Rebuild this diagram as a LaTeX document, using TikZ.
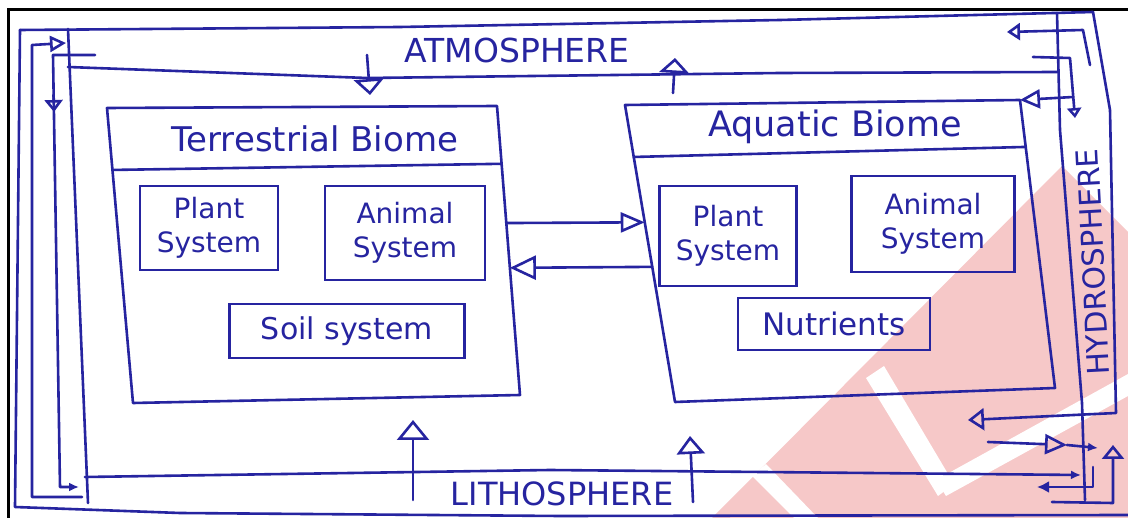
\documentclass[tikz,border=0pt]{standalone}
\usepackage{fontspec}
\newfontfamily\hand{DejaVu Sans}
\usetikzlibrary{arrows.meta,calc}
\definecolor{ink}{RGB}{38,36,160}
\definecolor{wm}{RGB}{246,200,200}
\begin{document}
\begin{tikzpicture}[x=1pt,y=-1pt,
  pen/.style={draw=ink,line width=2.6pt,line join=round,line cap=round},
  smalltip/.style={-{Latex[length=10pt,width=9pt]}},
  lbl/.style={text=ink,inner sep=0pt,font=\hand\fontsize{33}{38}\selectfont},
  sub/.style={draw=ink,line width=2.6pt,text=ink,align=center,inner sep=0pt,
              font=\hand\fontsize{28}{34}\selectfont},
]
\useasboundingbox (0,0) rectangle (1128,518);
\fill[white] (0,0) rectangle (1128,518);
% watermark
\fill[wm] (712,518) -- (1062,166) -- (1128,232) -- (1128,518) -- cycle;
\fill[white] (866,378) -- (884,366) -- (954,484) -- (938,496) -- cycle;
\fill[white] (936,480) -- (1128,374) -- (1128,396) -- (946,496) -- cycle;
\fill[white] (752,476) -- (766,464) -- (818,518) -- (794,518) -- cycle;
% black frame
\draw[line width=3pt] (8,518) -- (8,10) -- (1128,10);

% outer loop
\draw[pen] (20,30) -- (400,27) -- (780,20) -- (1093,12);
\draw[pen] (20,30) -- (15,507) -- (180,513) -- (560,516) -- (1128,515);
\draw[pen,-{Triangle[open,length=16pt,width=22pt]}] (1093,12) -- (1110,110) -- (1116,413) -- (968,420);
% inner loop
\draw[pen] (68,29) -- (88,503);
\draw[pen] (68,67) -- (367,78) -- (780,73) -- (1057,72);
\draw[pen] (1057,13) -- (1060,130) -- (1082,403) -- (1085,500);
\draw[pen,smalltip] (85,477) -- (550,470) -- (1081,475);

% left side arrows
\draw[pen,-{Triangle[open,length=16pt,width=16pt]}] (82,497) -- (32,497) -- (32,45) -- (66,43);
\draw[pen,smalltip] (95,55) -- (53,55) -- (60,487) -- (79,487);
\draw[pen,-{Triangle[open,length=12pt,width=18pt]}] (53.5,95) -- (54,112);

% band labels
\node[lbl,anchor=base] (atm) at (517,63) {ATMOSPHERE};
\node[lbl,anchor=base,font=\hand\fontsize{32}{36}\selectfont] (lith) at (562,506) {LITHOSPHERE};
\node[lbl,rotate=93,font=\hand\fontsize{30}{34}\selectfont] (hyd) at (1093,262) {HYDROSPHERE};

% atmosphere arrows
\draw[pen,-{Triangle[open,length=16pt,width=30pt]}] (367,55) -- (370,95);
\draw[pen,-{Triangle[open,length=15pt,width=30pt]}] (673,93) -- (675,58);

% terrestrial biome
\coordinate (tTL) at (107,108);
\coordinate (tTR) at (497,106);
\coordinate (tBR) at (520,395);
\coordinate (tBL) at (133,403);
\draw[pen] (tTL) -- (tTR) -- (tBR) -- (tBL) -- cycle;
\draw[pen] ($(tTL)!0.21!(tBL)$) -- ($(tTR)!0.2!(tBR)$);
\node[lbl,anchor=base,font=\hand\fontsize{34}{38}\selectfont] (tname) at (315,152) {Terrestrial Biome};
\node[sub,minimum width=138pt,minimum height=84pt] (tplant) at (209,228) {Plant\\System};
\node[sub,minimum width=160pt,minimum height=94pt] (tanimal) at (405,233) {Animal\\System};
\node[sub,minimum width=235pt,minimum height=54pt,font=\hand\fontsize{30}{34}\selectfont] (tsoil) at (347,331) {Soil system};

% aquatic biome
\coordinate (aTL) at (625,105);
\coordinate (aTR) at (1020,100);
\coordinate (aBR) at (1055,388);
\coordinate (aBL) at (675,402);
\draw[pen] (aTL) -- (aTR) -- (aBR) -- (aBL) -- cycle;
\draw[pen] ($(aTL)!0.175!(aBL)$) -- ($(aTR)!0.163!(aBR)$);
\node[lbl,anchor=base,font=\hand\fontsize{35}{38}\selectfont] (aname) at (835,137) {Aquatic Biome};
\node[sub,minimum width=137pt,minimum height=100pt] (aplant) at (728,236) {Plant\\System};
\node[sub,minimum width=163pt,minimum height=96pt] (aanimal) at (933,224) {Animal\\System};
\node[sub,minimum width=192pt,minimum height=52pt,font=\hand\fontsize{31}{34}\selectfont] (anut) at (834,324) {Nutrients};

% exchanges between biomes
\coordinate (t1) at ($(tTR)!0.405!(tBR)$);
\coordinate (a1) at ($(aTL)!0.395!(aBL)$);
\coordinate (a2) at ($(aTL)!0.545!(aBL)$);
\coordinate (t2) at ($(tTR)!0.56!(tBR)$);
\draw[pen,-{Triangle[open,length=24pt,width=20pt]}] (t1) -- (a1);
\draw[pen,-{Triangle[open,length=26pt,width=24pt]}] (a2) -- (t2);

% lithosphere arrows
\coordinate (l1) at (413,500);
\coordinate (u1) at (413,420);
\coordinate (l2) at (693,502);
\coordinate (u2) at (690,436);
\draw[pen,-{Triangle[open,length=20pt,width=32pt]}] (l1) -- (u1);
\draw[pen,-{Triangle[open,length=18pt,width=28pt]}] (l2) -- (u2);

% hydrosphere arrows
\draw[pen,-{Triangle[open,length=13pt,width=17pt]}] (1090,65) -- (1083,30) -- (1007,32);
\draw[pen,-{Triangle[open,length=10pt,width=14pt]}] (1033,57) -- (1070,58) -- (1075,118);
\draw[pen,-{Triangle[open,length=20pt,width=19pt]}] (1073,97) -- (aTR);
\draw[pen,-{Triangle[open,length=22pt,width=20pt]}] (988,442) -- (1067,445);
\draw[pen,smalltip] (1067,445) -- (1098,448);
\draw[pen,-{Triangle[open,length=14pt,width=22pt]}] (1052,502) -- (1113,503) -- (1113,445);
\draw[pen,-{Latex[length=12pt,width=12pt]}] (1093,467) -- (1093,487) -- (1037,487);
\end{tikzpicture}
\end{document}
